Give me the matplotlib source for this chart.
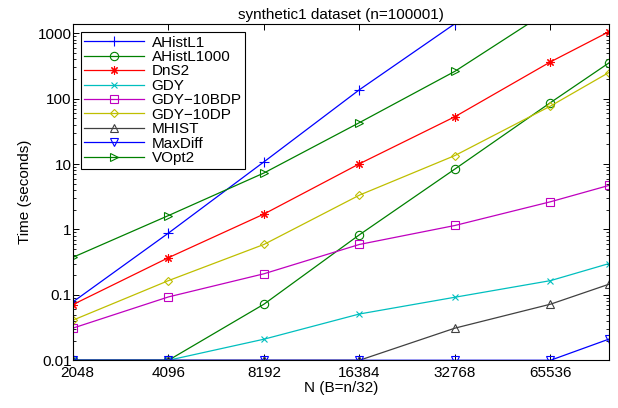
import numpy as np
import matplotlib.pyplot as plt
import matplotlib.transforms as mtransforms
from matplotlib.ticker import FixedLocator, NullLocator, LogLocator, NullFormatter

plt.rcParams['font.family'] = ['Liberation Sans', 'DejaVu Sans']
plt.rcParams['font.size'] = 11

n_vals = [2048, 4096, 8192, 16384, 32768, 65536, 100001]
n_ticks = [2048, 4096, 8192, 16384, 32768, 65536]

ahist_l1 = [0.078, 0.88, 10.8, 137, 1400]
ahist_l1000 = [0.01, 0.01, 0.072, 0.83, 8.4, 87, 350]
dns2 = [0.071, 0.37, 1.72, 10.1, 53, 365, 1050]
gdy = [0.01, 0.01, 0.021, 0.051, 0.092, 0.165, 0.30]
gdy_10bdp = [0.031, 0.093, 0.21, 0.59, 1.15, 2.65, 4.7]
gdy_10dp = [0.041, 0.165, 0.59, 3.35, 13.5, 77, 250]
mhist = [0.01, 0.01, 0.01, 0.01, 0.031, 0.072, 0.145]
maxdiff = [0.01, 0.01, 0.01, 0.01, 0.01, 0.01, 0.021]
vopt2 = [0.375, 1.63, 7.3, 43, 262, 2300]

series = [
    ("AHistL1", ahist_l1, (0, 0, 1), '+', 6.5),
    ("AHistL1000", ahist_l1000, (0, 0.5, 0), 'o', 6),
    ("DnS2", dns2, (1, 0, 0), (8, 2, 0), 6),
    ("GDY", gdy, (0, 0.75, 0.75), 'x', 4.5),
    ("GDY\u221210BDP", gdy_10bdp, (0.75, 0, 0.75), 's', 6),
    ("GDY\u221210DP", gdy_10dp, (0.75, 0.75, 0), 'D', 4.5),
    ("MHIST", mhist, (0.25, 0.25, 0.25), '^', 6),
    ("MaxDiff", maxdiff, (0, 0, 1), 'v', 6),
    ("VOpt2", vopt2, (0, 0.5, 0), '>', 6),
]

fig = plt.figure(figsize=(6.18, 4.08), dpi=100)
ax = fig.add_axes([0.118, 0.117, 0.867, 0.824])

for name, vals, col, mk, ms in series:
    ax.plot(n_vals[:len(vals)], vals, color=col, marker=mk, markersize=ms,
            markerfacecolor='none', markeredgecolor=col, linewidth=0.9,
            markeredgewidth=0.8, label=name)

ax.set_xscale('log', base=2)
ax.set_yscale('log')
ax.set_xlim(2048, 100001)
ax.set_ylim(0.01, 1380)
ax.xaxis.set_major_locator(FixedLocator(n_ticks))
ax.xaxis.set_minor_locator(NullLocator())
ax.set_xticklabels([str(v) for v in n_ticks])
ax.set_yticks([0.01, 0.1, 1, 10, 100, 1000])
ax.set_yticklabels(['0.01', '0.1', '1', '10', '100', '1000'])
ax.yaxis.set_minor_locator(LogLocator(base=10, subs=np.arange(2, 10)))
ax.yaxis.set_minor_formatter(NullFormatter())
ax.tick_params(which='both', direction='in', top=True, right=True)
ax.tick_params(which='major', length=4, width=0.7)
ax.tick_params(axis='x', which='major', pad=4)
ax.tick_params(axis='y', which='major', pad=1)
ax.tick_params(which='minor', length=2, width=0.6)
for s in ax.spines.values():
    s.set_linewidth(0.8)

# first x label sits a bit to the right, as in the original
first = ax.get_xticklabels()[0]
first.set_transform(first.get_transform() +
                    mtransforms.ScaledTranslation(4 / 100, 0, fig.dpi_scale_trans))

ax.set_title("synthetic1 dataset (n=100001)", fontsize=11, pad=4)
ax.set_xlabel("N (B=n/32)", labelpad=1)
ax.set_ylabel("Time (seconds)", labelpad=4)

leg = ax.legend(loc='upper left', fancybox=False, edgecolor='black',
                framealpha=1, fontsize=11, handlelength=3.9,
                borderaxespad=0.5, labelspacing=0.03, borderpad=0.25,
                handletextpad=0.5)
leg.get_frame().set_linewidth(0.8)

fig.savefig("out.png", dpi=100)
